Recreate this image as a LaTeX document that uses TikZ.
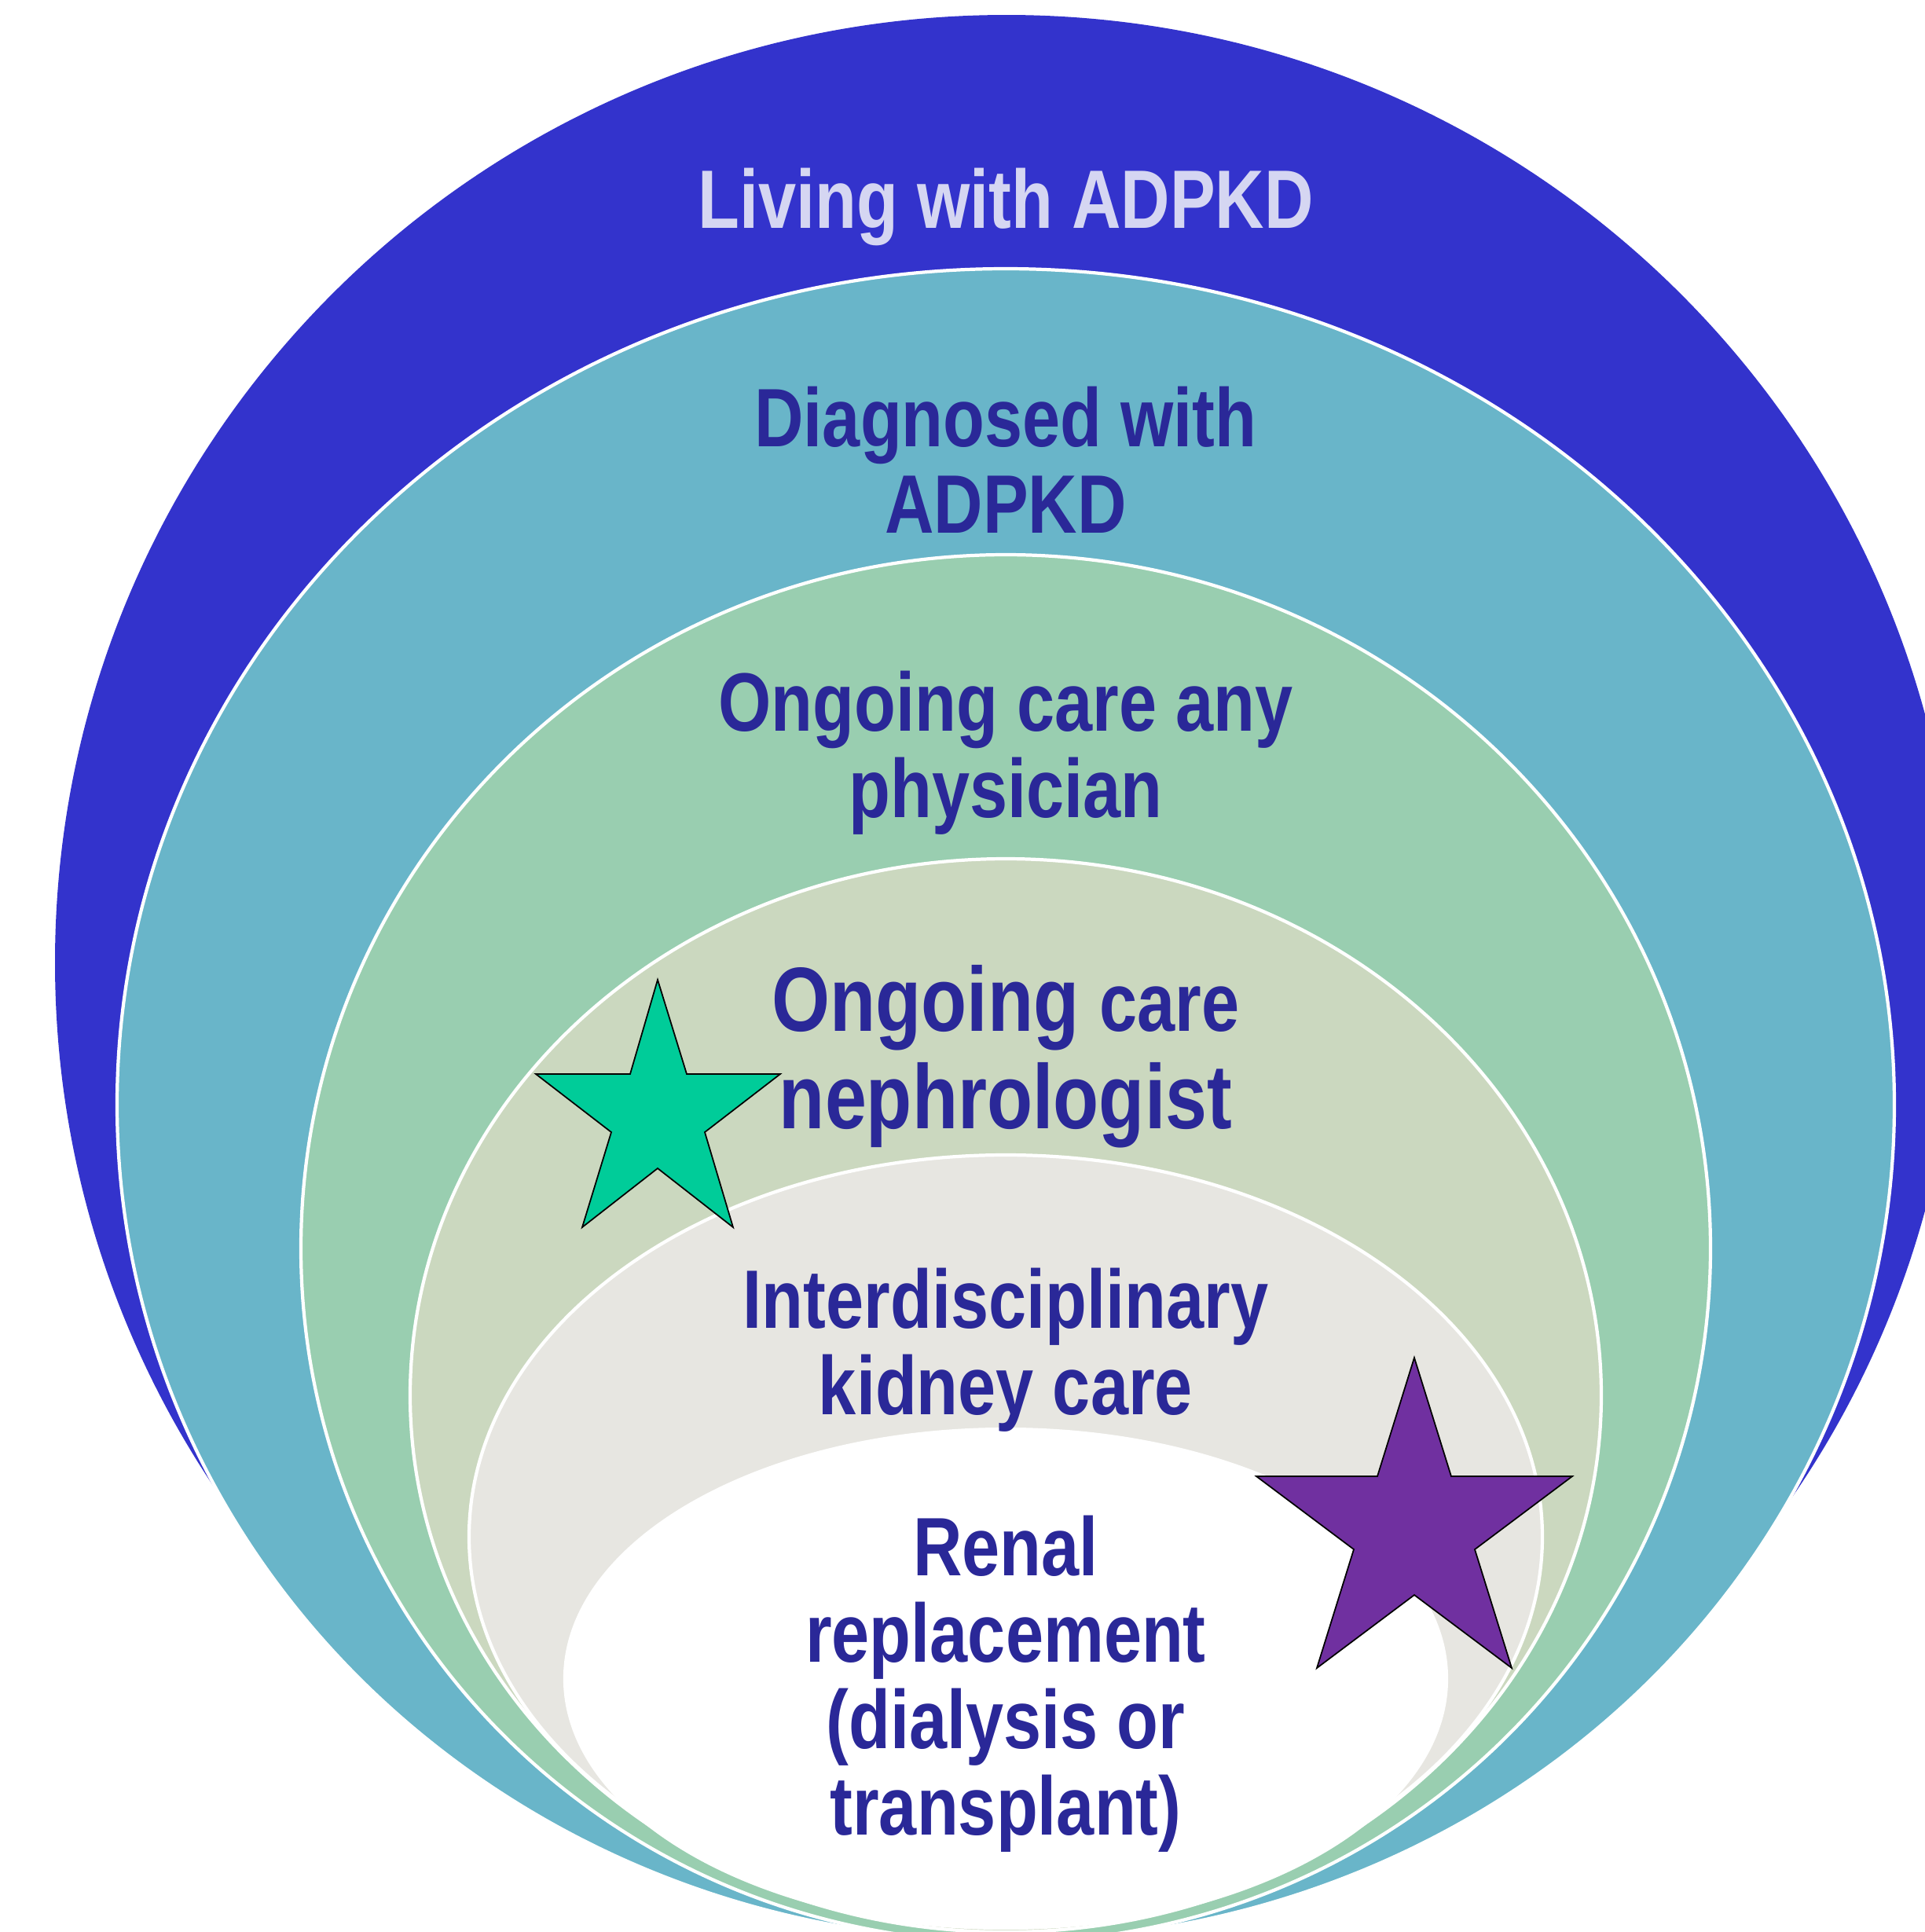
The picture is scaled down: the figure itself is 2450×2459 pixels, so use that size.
\documentclass[tikz,border=0pt]{standalone}
\usepackage{fontspec}
\newfontfamily\labfont{Liberation Sans}[FakeStretch=0.82]
\definecolor{cblue}{HTML}{3333CC}
\definecolor{cteal}{HTML}{69B5C9}
\definecolor{cgreen}{HTML}{99CEB0}
\definecolor{colive}{HTML}{CBD8BF}
\definecolor{cgray}{HTML}{E7E6E1}
\definecolor{ctext}{HTML}{2A2898}
\definecolor{clight}{HTML}{D5D6F2}
\definecolor{cstarg}{HTML}{00CC99}
\definecolor{cstarp}{HTML}{7030A0}
\begin{document}
\begin{tikzpicture}[x=0.01cm,y=-0.01cm,
  ring/.style={draw=white,line width=1.2pt},
  lab/.style={align=center,inner sep=0pt,anchor=base,text=ctext,font=\labfont\bfseries\fontsize{30}{31.2}\selectfont},
  starshape/.style={draw=black,line width=0.5pt,line join=miter}]
\useasboundingbox (0,0) rectangle (2450,2459);
\fill[white] (0,0) rectangle (2450,2459);
\begin{scope}
\clip (0,0) rectangle (2450,2459);
\fill[cblue] (1281,1225) ellipse [x radius=1211, y radius=1206];
\filldraw[ring, fill=cteal] (1280,1406) ellipse [x radius=1131, y radius=1064];
\filldraw[ring, fill=cgreen] (1280,1589) ellipse [x radius=897, y radius=883];
\filldraw[ring, fill=colive] (1280,1776) ellipse [x radius=758, y radius=683];
\filldraw[ring, fill=cgray] (1280,1956) ellipse [x radius=683, y radius=486];
\filldraw[ring, fill=white] (1280,2136.5) ellipse [x radius=561, y radius=317.5];
\end{scope}
\filldraw[starshape, fill=cstarg] (837,1247) -- (874,1367) -- (993,1367) -- (897,1441) -- (933,1562) -- (837,1487) -- (741,1562) -- (778,1441) -- (682,1367) -- (802,1367) -- cycle;
\filldraw[starshape, fill=cstarp] (1800,1728) -- (1847,1879) -- (2001,1879) -- (1877,1972) -- (1924,2123) -- (1800,2030) -- (1676,2123) -- (1723,1972) -- (1599,1879) -- (1753,1879) -- cycle;
\node[lab, text=clight] (living) at (1280,290) {Living with ADPKD};
\node[lab] (diag) at (1280,678) {Diagnosed with\\ADPKD};
\node[lab] (anyphys) at (1280,1040) {Ongoing care any\\physician};
\node[lab, font=\labfont\bfseries\fontsize{33}{35}\selectfont] (neph) at (1280,1436) {Ongoing {\fontsize{30}{35}\selectfont care}\\nephrologist};
\node[lab] (inter) at (1280,1800) {Interdisciplinary\\kidney care};
\node[lab] (renal) at (1280,2335) {Renal\\replacement\\(dialysis or\\transplant)};
\end{tikzpicture}
\end{document}
